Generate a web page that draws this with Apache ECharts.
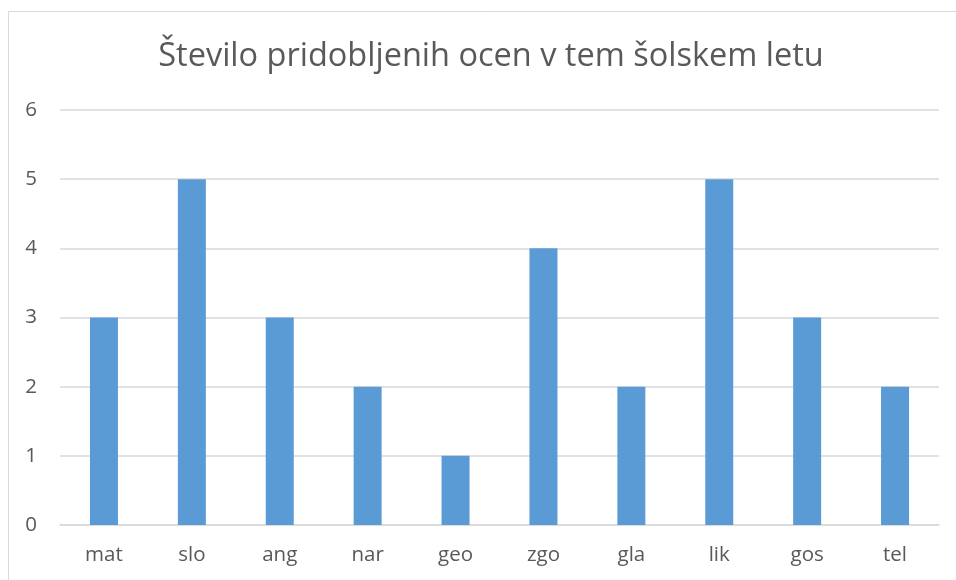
<!DOCTYPE html>
<html>
<head>
<meta charset="utf-8">
<script src="https://cdn.jsdelivr.net/npm/echarts@6/dist/echarts.min.js"></script>
<style>
  html, body { margin: 0; padding: 0; background: #fff; }
  #chart { width: 956px; height: 580px; }
</style>
</head>
<body>
<div id="chart"></div>
<script>
// predmeti in stevilo ocen
var subjects = ['mat', 'slo', 'ang', 'nar', 'geo', 'zgo', 'gla', 'lik', 'gos', 'tel'];
var grades = [3, 5, 3, 2, 1, 4, 2, 5, 3, 2];
var yTicks = [0, 1, 2, 3, 4, 5, 6];

var myChart = echarts.init(document.getElementById('chart'));
var textColor = '#595959';

myChart.setOption({
    animation: false,
    backgroundColor: '#fff',
    title: {
        text: 'Število pridobljenih ocen v tem šolskem letu',
        left: 486,
        textAlign: 'center',
        top: 35,
        textStyle: { fontFamily: 'Open Sans', fontSize: 32.5, fontWeight: 'normal', color: textColor }
    },
    // okvir grafa (desni in spodnji rob sta odrezana)
    graphic: [{
        type: 'rect',
        shape: { x: 8.5, y: 11.5, width: 1000, height: 1000 },
        style: { fill: 'none', stroke: '#d9d9d9', lineWidth: 1 },
        silent: true
    }],
    grid: { left: 60, right: 17, top: 110, bottom: 55, containLabel: false },
    xAxis: {
        type: 'category',
        data: subjects,
        axisLine: { show: true, lineStyle: { color: '#d9d9d9', width: 1.5 } },
        axisTick: { show: false },
        axisLabel: { color: textColor, fontFamily: 'Open Sans', fontSize: 20.5, margin: 20 }
    },
    yAxis: {
        type: 'value',
        min: yTicks[0],
        max: yTicks[yTicks.length - 1],
        interval: 1,
        axisLine: { show: false },
        axisTick: { show: false },
        splitLine: { lineStyle: { color: '#d9d9d9', width: 1.5 } },
        axisLabel: { color: textColor, fontFamily: 'Open Sans', fontSize: 20.5, margin: 23 }
    },
    series: [{
        type: 'bar',
        data: grades,
        barWidth: 28,
        itemStyle: { color: '#5b9bd5' }
    }]
});
</script>
</body>
</html>
